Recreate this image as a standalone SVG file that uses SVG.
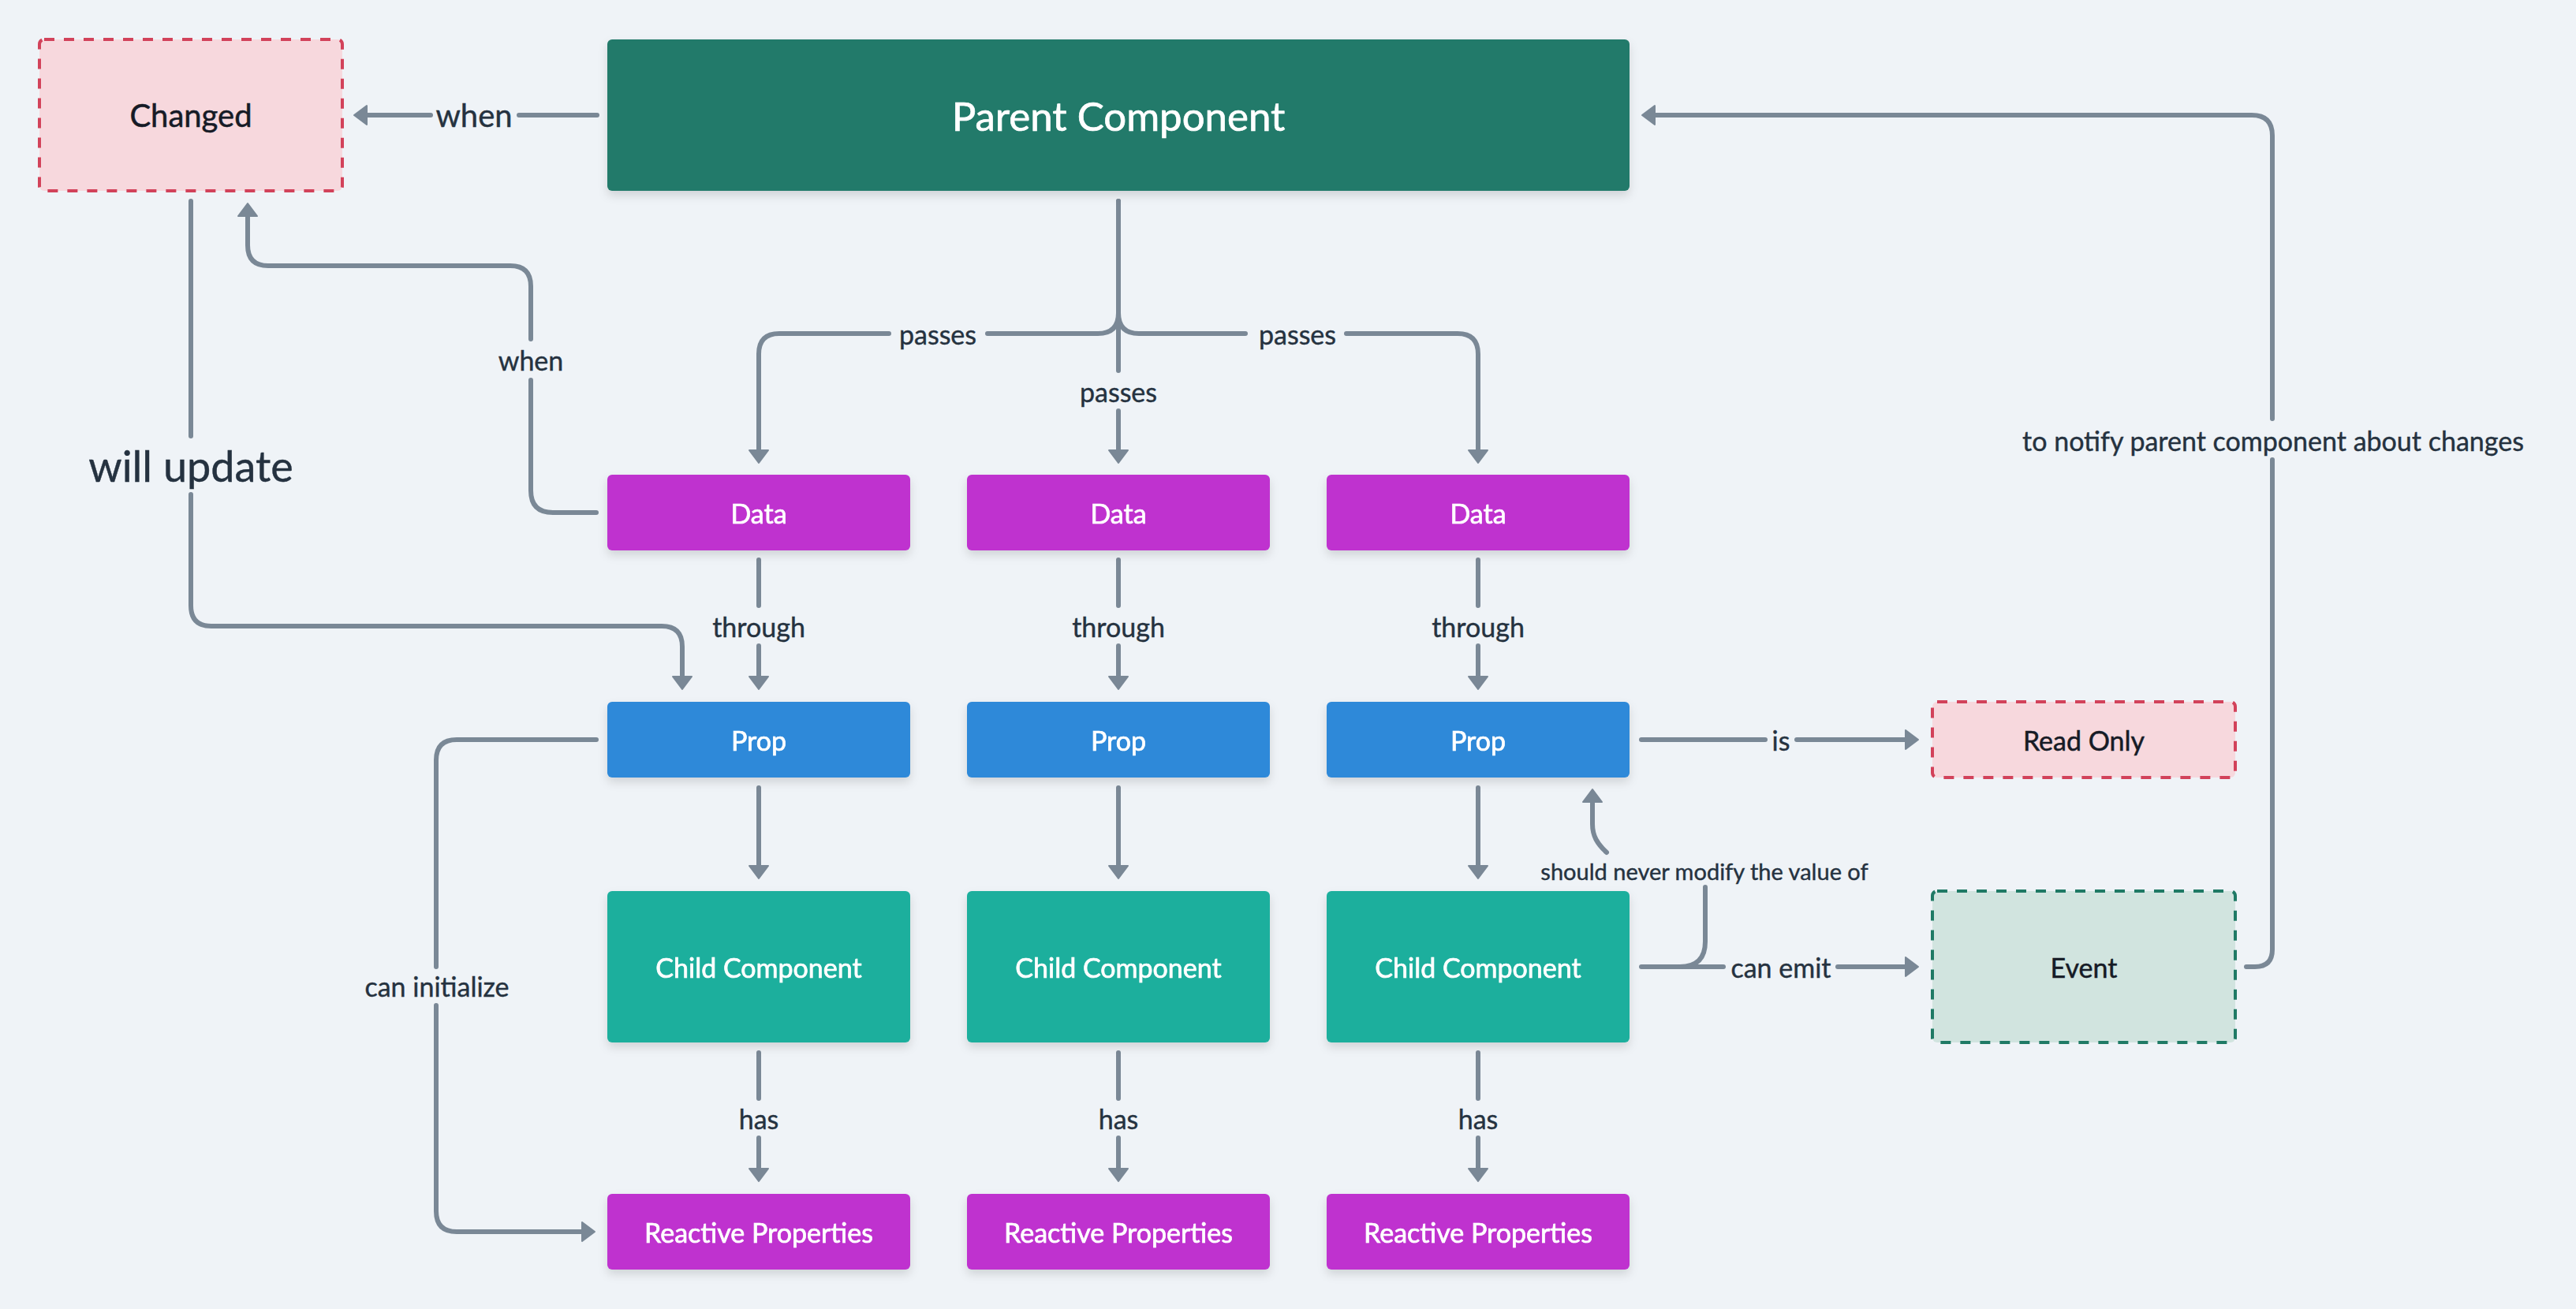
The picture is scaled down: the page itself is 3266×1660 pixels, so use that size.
<svg xmlns="http://www.w3.org/2000/svg" width="3266" height="1660" viewBox="0 0 3266 1660">
<style>
.e{fill:none;stroke:#7a8896;stroke-width:6;stroke-linecap:round;stroke-linejoin:round}
.a{marker-end:url(#arr)}
.n{filter:url(#sh)}
.t{font-family:Lato,"Open Sans",sans-serif;text-anchor:middle;dominant-baseline:central;font-size:34px}
.nt{fill:#ffffff;stroke:#ffffff;stroke-width:0.7px}
.lb{fill:#253240;stroke:#253240;stroke-width:0.4px}
.dk{fill:#161b26;stroke:#161b26;stroke-width:0.5px}
</style>
<defs>
<marker id="arr" markerUnits="userSpaceOnUse" viewBox="0 0 19 28" markerWidth="19" markerHeight="28" refX="1" refY="14" orient="auto">
<path d="M1,2 L17,14 L1,26 Z" fill="#7a8896" stroke="#7a8896" stroke-width="2" stroke-linejoin="round"/>
</marker>
<filter id="sh" x="-10%" y="-20%" width="120%" height="150%">
<feDropShadow dx="0" dy="6" stdDeviation="6" flood-color="#000" flood-opacity="0.13"/>
</filter>
</defs>
<rect x="0" y="0" width="3266" height="1660" fill="#eff3f7"/>

<g id="connectors">
<path class="e a" d="M757 146 H658 M546 146 H465"/>
<path class="e" d="M756 650 H701 Q673 650 673 622 V482"/>
<path class="e a" d="M673 430 V363 Q673 337 647 337 H340 Q314 337 314 311 V274"/>
<path class="e" d="M242 255 V553"/>
<path class="e a" d="M242 627 V768 Q242 794 268 794 H839 Q865 794 865 820 V858"/>
<path class="e" d="M756 938 H579 Q553 938 553 964 V1226"/>
<path class="e a" d="M553 1275 V1536 Q553 1562 579 1562 H738"/>
<path class="e" d="M1418 255 V397 Q1418 423 1392 423 H1252"/>
<path class="e a" d="M1127 423 H988 Q962 423 962 449 V571"/>
<path class="e" d="M1418 397 Q1418 423 1444 423 H1579"/>
<path class="e a" d="M1707 423 H1848 Q1874 423 1874 449 V571"/>
<path class="e" d="M1418 255 V470"/>
<path class="e a" d="M1418 521 V571"/>
<path class="e" d="M962 710 V768 M1418 710 V768 M1874 710 V768"/>
<path class="e a" d="M962 819 V858"/>
<path class="e a" d="M1418 819 V858"/>
<path class="e a" d="M1874 819 V858"/>
<path class="e a" d="M962 999 V1098"/>
<path class="e a" d="M1418 999 V1098"/>
<path class="e a" d="M1874 999 V1098"/>
<path class="e" d="M962 1335 V1393 M1418 1335 V1393 M1874 1335 V1393"/>
<path class="e a" d="M962 1443 V1482"/>
<path class="e a" d="M1418 1443 V1482"/>
<path class="e a" d="M1874 1443 V1482"/>
<path class="e" d="M2081 938 H2238"/>
<path class="e a" d="M2278 938 H2416"/>
<path class="e" d="M2081 1226 H2185"/>
<path class="e a" d="M2330 1226 H2416"/>
<path class="e" d="M2130 1226 Q2162 1226 2162 1194 V1125"/>
<path class="e a" d="M2037 1081 C2025 1070 2019 1060 2019 1045 V1017"/>
<path class="e" d="M2848 1226 H2859 Q2881 1226 2881 1204 V583"/>
<path class="e a" d="M2881 531 V172 Q2881 146 2855 146 H2098"/>
<g class="t lb">
<text x="601" y="146" style="font-size:40px">when</text>
<text x="673" y="456">when</text>
<text x="242" y="590" style="font-size:54px">will update</text>
<text x="554" y="1250">can initialize</text>
<text x="1189" y="423">passes</text>
<text x="1645" y="423">passes</text>
<text x="1418" y="496">passes</text>
<text x="962" y="794">through</text>
<text x="1418" y="794">through</text>
<text x="1874" y="794">through</text>
<text x="962" y="1418">has</text>
<text x="1418" y="1418">has</text>
<text x="1874" y="1418">has</text>
<text x="2258" y="938">is</text>
<text x="2258" y="1226">can emit</text>
<text x="2161" y="1104" style="font-size:29px">should never modify the value of</text>
<text x="2882" y="558">to notify parent component about changes</text>
</g>
</g>

<g id="changed">
<rect x="50" y="50" width="384" height="192" rx="6" fill="#f7d8dd" stroke="#d2425a" stroke-width="4" stroke-dasharray="13 12"/>
<text class="t dk" x="242" y="146" style="font-size:40px">Changed</text>
</g>
<g id="parent" class="n">
<rect x="770" y="50" width="1296" height="192" rx="6" fill="#217a6a"/>
<text class="t nt" x="1418" y="146" style="font-size:51px">Parent Component</text>
</g>

<g id="data1" class="n"><rect x="770" y="602" width="384" height="96" rx="6" fill="#bf33cf"/><text class="t nt" x="962" y="650">Data</text></g>
<g id="data2" class="n"><rect x="1226" y="602" width="384" height="96" rx="6" fill="#bf33cf"/><text class="t nt" x="1418" y="650">Data</text></g>
<g id="data3" class="n"><rect x="1682" y="602" width="384" height="96" rx="6" fill="#bf33cf"/><text class="t nt" x="1874" y="650">Data</text></g>

<g id="prop1" class="n"><rect x="770" y="890" width="384" height="96" rx="6" fill="#2d89d9"/><text class="t nt" x="962" y="938">Prop</text></g>
<g id="prop2" class="n"><rect x="1226" y="890" width="384" height="96" rx="6" fill="#2d89d9"/><text class="t nt" x="1418" y="938">Prop</text></g>
<g id="prop3" class="n"><rect x="1682" y="890" width="384" height="96" rx="6" fill="#2d89d9"/><text class="t nt" x="1874" y="938">Prop</text></g>

<g id="child1" class="n"><rect x="770" y="1130" width="384" height="192" rx="6" fill="#1caf9d"/><text class="t nt" x="962" y="1226">Child Component</text></g>
<g id="child2" class="n"><rect x="1226" y="1130" width="384" height="192" rx="6" fill="#1caf9d"/><text class="t nt" x="1418" y="1226">Child Component</text></g>
<g id="child3" class="n"><rect x="1682" y="1130" width="384" height="192" rx="6" fill="#1caf9d"/><text class="t nt" x="1874" y="1226">Child Component</text></g>

<g id="reactive1" class="n"><rect x="770" y="1514" width="384" height="96" rx="6" fill="#bf33cf"/><text class="t nt" x="962" y="1562">Reactive Properties</text></g>
<g id="reactive2" class="n"><rect x="1226" y="1514" width="384" height="96" rx="6" fill="#bf33cf"/><text class="t nt" x="1418" y="1562">Reactive Properties</text></g>
<g id="reactive3" class="n"><rect x="1682" y="1514" width="384" height="96" rx="6" fill="#bf33cf"/><text class="t nt" x="1874" y="1562">Reactive Properties</text></g>

<g id="readonly">
<rect x="2450" y="890" width="384" height="96" rx="6" fill="#f7d8dd" stroke="#d2425a" stroke-width="4" stroke-dasharray="13 12"/>
<text class="t dk" x="2642" y="938">Read Only</text>
</g>
<g id="event">
<rect x="2450" y="1130" width="384" height="192" rx="6" fill="#d1e4df" stroke="#1f7a65" stroke-width="4" stroke-dasharray="13 12"/>
<text class="t dk" x="2642" y="1226">Event</text>
</g>
</svg>
